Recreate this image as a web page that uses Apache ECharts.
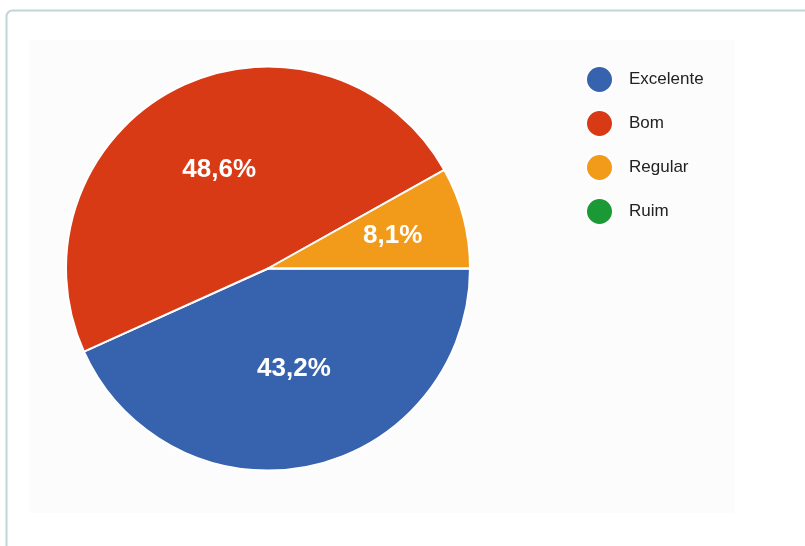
<!DOCTYPE html>
<html>
<head>
<meta charset="utf-8">
<script src="https://cdn.jsdelivr.net/npm/echarts@6/dist/echarts.min.js"></script>
<style>
  html, body { margin: 0; padding: 0; background: #ffffff; }
  #chart { width: 805px; height: 546px; }
</style>
</head>
<body>
<div id="chart"></div>
<script>
// Answer categories and their shares (percent)
const categories = ['Excelente', 'Bom', 'Regular', 'Ruim'];
const shares = [43.2, 48.6, 8.1, 0];
const colors = ['#3762ad', '#d93a16', '#f29b1b', '#1a9934'];

// Nudges for the in-slice percentage labels
const labelOffsets = [[4, -1], [-2, -6], [24, -6], [0, 0]];

const fmt = v => v.toFixed(1).replace('.', ',') + '%';

const data = categories.map((name, i) => ({
  name: name,
  value: shares[i],
  itemStyle: { color: colors[i] },
  label: { show: shares[i] > 0, offset: labelOffsets[i] }
}));

const chart = echarts.init(document.getElementById('chart'), null, { renderer: 'canvas' });

chart.setOption({
  animation: false,
  backgroundColor: '#ffffff',
  graphic: [
    {
      type: 'rect',
      z: -10,
      shape: { x: 6.5, y: 10.5, width: 900, height: 700, r: 6 },
      style: { fill: '#ffffff', stroke: '#bfd5d7', lineWidth: 2 }
    },
    {
      type: 'rect',
      z: -9,
      shape: { x: 30, y: 40, width: 705, height: 473 },
      style: { fill: '#fcfcfc' }
    }
  ],
  legend: {
    orient: 'vertical',
    left: 585,
    top: 65,
    padding: 0,
    icon: 'circle',
    itemWidth: 27,
    itemHeight: 27,
    itemGap: 15,
    data: categories,
    textStyle: {
      fontFamily: "'Liberation Sans', Arial, sans-serif",
      fontSize: 17,
      color: '#222222',
      padding: [0, 0, 0, 11]
    }
  },
  series: [{
    type: 'pie',
    center: [268, 268.5],
    radius: [0, 202],
    startAngle: 0,
    clockwise: true,
    avoidLabelOverlap: false,
    itemStyle: { borderColor: '#ffffff', borderWidth: 2 },
    label: {
      position: 'inside',
      color: '#ffffff',
      fontFamily: "'Liberation Sans', Arial, sans-serif",
      fontWeight: 'bold',
      fontSize: 26,
      formatter: p => fmt(p.value)
    },
    labelLine: { show: false },
    emphasis: { disabled: true },
    data: data
  }]
});
</script>
</body>
</html>
